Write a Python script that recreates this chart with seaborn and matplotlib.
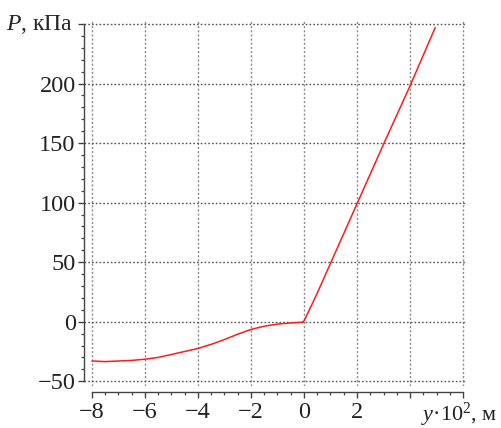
import matplotlib
matplotlib.use("Agg")
import matplotlib.pyplot as plt
from matplotlib.ticker import MultipleLocator, FixedLocator
import seaborn as sns
import pandas as pd

# data
y_disp = [-8.0, -7.5, -7.0, -6.5, -6.0, -5.5, -5.0, -4.5, -4.0, -3.5, -3.0, -2.5,
          -2.0, -1.5, -1.0, -0.5, -0.1, 0.0, 0.5, 1.0, 2.0, 3.0, 4.0, 4.95]
pressure = [-33.0, -33.5, -33.0, -32.5, -31.5, -30.0, -27.5, -25.0, -22.5, -19.0, -15.0, -10.5,
            -6.5, -3.8, -2.0, -1.0, -0.5, 0.5, 24.0, 49.0, 99.0, 149.0, 198.0, 247.0]
x_ticks = [-8, -6, -4, -2, 0, 2, 4, 6]
x_tick_labels = ["\u22128", "\u22126", "\u22124", "\u22122", "0", "2", "", ""]
y_ticks = [-50, 0, 50, 100, 150, 200, 250]
y_tick_labels = ["\u221250", "0", "50", "100", "150", "200", ""]

sns.set_theme(style="ticks")
plt.rcParams["font.family"] = ["Liberation Serif", "DejaVu Serif"]
plt.rcParams["mathtext.fontset"] = "custom"
plt.rcParams["mathtext.rm"] = "Liberation Serif"
plt.rcParams["mathtext.it"] = "Liberation Serif:italic"

FS = 17.5
df = pd.DataFrame({"y": y_disp, "P": pressure})

fig = plt.figure(figsize=(5.02, 4.28), dpi=100)
ax = fig.add_axes([84 / 502, 1 - 386 / 428, (467 - 84) / 502, (386 - 20) / 428])

sns.lineplot(data=df, x="y", y="P", ax=ax, color="#ff1a1a", linewidth=1.1, sort=False)

ax.set_xlim(-8.3, 6.15)
ax.set_ylim(-54, 253.4)

ax.xaxis.set_major_locator(FixedLocator(x_ticks))
ax.set_xticklabels(x_tick_labels)
ax.yaxis.set_major_locator(FixedLocator(y_ticks))
ax.set_yticklabels(y_tick_labels)
ax.xaxis.set_minor_locator(MultipleLocator(0.5))
ax.yaxis.set_minor_locator(MultipleLocator(10))

ax.set_xlabel("")
ax.set_ylabel("")

for s in ["top", "right"]:
    ax.spines[s].set_visible(False)
ax.spines["left"].set_bounds(-50, 250)
ax.spines["bottom"].set_bounds(-8, 6)
ax.spines["bottom"].set_position(("outward", 4.3))
for s in ["left", "bottom"]:
    ax.spines[s].set_color("#444444")
    ax.spines[s].set_linewidth(1.0)

ax.tick_params(axis="both", which="major", length=4.5, width=1.0, color="#444444",
               labelsize=FS, labelcolor="#222222", direction="out")
ax.tick_params(axis="both", which="minor", length=2.5, width=0.9, color="#444444", direction="out")
ax.tick_params(axis="y", which="major", pad=1.5)
ax.tick_params(axis="x", which="major", pad=2.5)

ax.grid(True, axis="x", which="major", color="#8a8a8a", linestyle=(0, (1.5, 1.5)), linewidth=1.0)
ax.grid(True, axis="y", which="major", color="#555555", linestyle=(0, (1.2, 1.5)), linewidth=1.0)
ax.set_axisbelow(True)

fig.text(73 / 502, 1 - 24 / 428, r"$\mathit{P}$, кПа", ha="right", va="center",
         fontsize=17, color="#222222")
fig.text(497 / 502, 1 - 415 / 428, r"$\mathit{y}$·10$^{2}$, м", ha="right", va="center",
         fontsize=16, color="#222222")

fig.savefig("out.png", dpi=100)
